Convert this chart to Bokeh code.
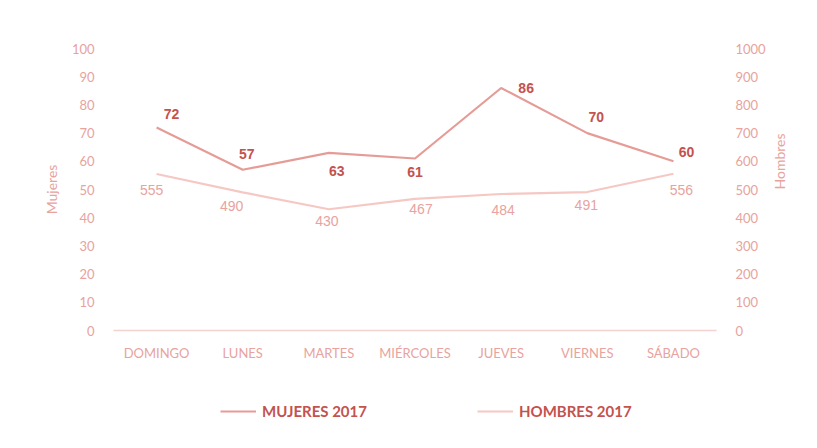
import math
from bokeh.plotting import figure
from bokeh.layouts import column
from bokeh.models import (Range1d, LinearAxis, FixedTicker, ColumnDataSource, LabelSet,
                          Legend, LegendItem)
from bokeh.core.properties import value
from bokeh.embed import file_html
from bokeh.resources import INLINE

dias = ["DOMINGO", "LUNES", "MARTES", "MIÉRCOLES", "JUEVES", "VIERNES", "SÁBADO"]
mujeres_2017 = [72, 57, 63, 61, 86, 70, 60]
hombres_2017 = [555, 490, 430, 467, 484, 491, 556]
ticks_mujeres = list(range(0, 101, 10))
ticks_hombres = list(range(0, 1001, 100))

# label placement offsets (screen px), styling only
muj_dx = [15, 4, 8, 0, 25, 9, 13]
muj_dy = [13, 16, -18, -14, 0, 16, 9]
hom_dx = [-5, -11, -2, 6, 2, -1, 8]
hom_dy = [-16, -14, -12, -10, -16, -13, -16]

TICK = "#e8a39e"
C_MUJ = "#e59c97"
C_HOM = "#f5c8c4"
C_LAB = "#c4524e"

p = figure(x_range=dias, y_range=Range1d(0, ticks_mujeres[-1]), frame_width=603, frame_height=282,
           min_border_left=113, min_border_right=101, min_border_top=48, min_border_bottom=62,
           output_backend="svg", toolbar_location=None, background_fill_color="white",
           border_fill_color="white", outline_line_color=None)
p.extra_y_ranges = {"hombres": Range1d(0, ticks_hombres[-1])}
p.xgrid.visible = False
p.ygrid.visible = False

src = ColumnDataSource(dict(x=dias, m=mujeres_2017, h=hombres_2017,
                            ml=[str(v) for v in mujeres_2017], hl=[str(v) for v in hombres_2017],
                            mdx=muj_dx, mdy=muj_dy, hdx=hom_dx, hdy=hom_dy))

p.line("x", "m", source=src, line_color=C_MUJ, line_width=2.2)
p.line("x", "h", source=src, line_color=C_HOM, line_width=2.2, y_range_name="hombres")

p.add_layout(LabelSet(x="x", y="m", text="ml", source=src, x_offset="mdx", y_offset="mdy",
                      text_align="center", text_baseline="middle", text_font=value("Liberation Sans"),
                      text_font_size="14px", text_font_style="bold", text_color=C_LAB))
p.add_layout(LabelSet(x="x", y="h", text="hl", source=src, x_offset="hdx", y_offset="hdy",
                      y_range_name="hombres",
                      text_align="center", text_baseline="middle", text_font=value("Liberation Sans"),
                      text_font_size="14px", text_color=TICK))

ya = p.yaxis[0]
ya.ticker = FixedTicker(ticks=ticks_mujeres)
ya.axis_label = "Mujeres"

yr = LinearAxis(y_range_name="hombres", ticker=FixedTicker(ticks=ticks_hombres), axis_label="Hombres")
p.add_layout(yr, "right")

for ax in [ya, yr]:
    ax.axis_line_color = None
    ax.major_tick_line_color = None
    ax.minor_tick_line_color = None
    ax.major_label_text_color = TICK
    ax.major_label_text_font = "Lato"
    ax.major_label_text_font_size = "13px"
    ax.major_label_standoff = 13
    ax.axis_label_text_color = TICK
    ax.axis_label_text_font = "Lato"
    ax.axis_label_text_font_size = "14px"
    ax.axis_label_text_font_style = "normal"
ya.axis_label_standoff = 9
yr.axis_label_standoff = 11
if "axis_label_orientation" in yr.properties():
    yr.axis_label_orientation = math.pi / 2

xa = p.xaxis[0]
xa.axis_line_color = "#f4d2cf"
xa.axis_line_width = 1.5
xa.major_tick_line_color = None
xa.minor_tick_line_color = None
xa.major_label_text_color = TICK
xa.major_label_text_font = "Lato"
xa.major_label_text_font_size = "13px"
xa.major_label_standoff = 8

# legend strip below the chart (its frame aligns with the chart frame)
q = figure(x_range=dias, width=817, height=56, min_border=0,
           output_backend="svg", toolbar_location=None, background_fill_color="white",
           border_fill_color="white", outline_line_color=None)
q.axis.visible = False
q.grid.visible = False
q_m = q.line("x", "m", source=src, line_color=C_MUJ, line_width=2.2, visible=False)
q_h = q.line("x", "h", source=src, line_color=C_HOM, line_width=2.2, visible=False)

legend = Legend(items=[LegendItem(label="MUJERES 2017", renderers=[q_m]),
                       LegendItem(label="HOMBRES 2017", renderers=[q_h])],
                location=(107, 28), orientation="horizontal", spacing=110,
                glyph_width=36, glyph_height=18, label_standoff=6, padding=0, margin=0,
                border_line_color=None, background_fill_alpha=0,
                label_text_font="Lato", label_text_font_style="bold", label_text_font_size="15px",
                label_text_color=C_LAB)
q.add_layout(legend, "center")

open("out.html", "w").write(file_html(column(p, q, spacing=0), INLINE))
